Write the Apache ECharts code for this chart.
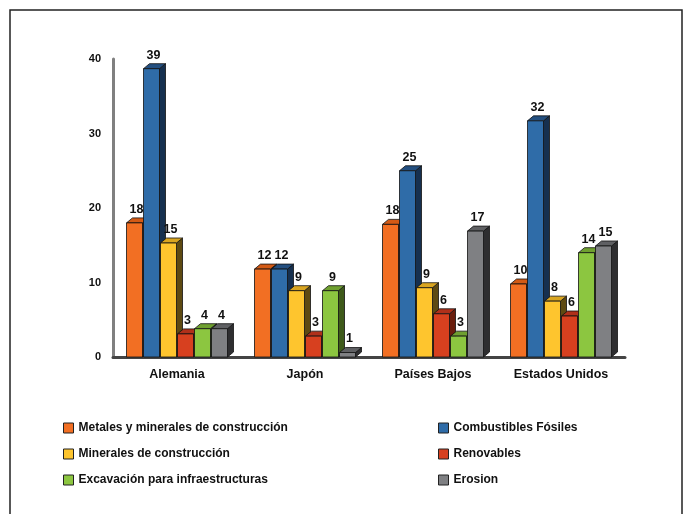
<!DOCTYPE html>
<html><head><meta charset="utf-8">
<script src="https://cdn.jsdelivr.net/npm/echarts@6/dist/echarts.min.js"></script>
<style>html,body{margin:0;padding:0;background:#fff}#c{width:685px;height:514px}</style>
</head><body><div id="c"></div>
<script>
const categories = ['Alemania', 'Japón', 'Países Bajos', 'Estados Unidos'];
const seriesNames = ['Metales y minerales de construcción', 'Combustibles Fósiles', 'Minerales de construcción', 'Renovables', 'Excavación para infraestructuras', 'Erosion'];
const metales = [18.0, 11.8, 17.8, 9.8];
const combustibles = [38.7, 11.8, 25.0, 31.7];
const minerales = [15.3, 8.9, 9.3, 7.5];
const renovables = [3.1, 2.8, 5.8, 5.5];
const excavacion = [3.8, 8.9, 2.8, 14.0];
const erosion = [3.8, 0.6, 16.9, 14.9];
const yTicks = [0, 10, 20, 30, 40];

const seriesValues = [metales, combustibles, minerales, renovables, excavacion, erosion];
const colors = ['#F26F23', '#2F6CA8', '#FEC52E', '#D7401F', '#8CC640', '#7F8083'];
const sideColors = ['#7a3510', '#16304f', '#5e4a12', '#6a1e0e', '#3e5a1a', '#2e2e30'];
const topColors = ['#d35a15', '#234f80', '#d9a520', '#b0301a', '#6fa030', '#5f6063'];
const FONT = '"Liberation Sans Narrow", "Arial Narrow", "Liberation Sans", Arial, sans-serif';

const chart = echarts.init(document.getElementById('c'));

function makeRender(i) {
  return function (params, api) {
    const cat = api.value(0), val = api.value(1);
    const base = api.coord([cat, 0]);
    const top = api.coord([cat, val]);
    const band = api.size([1, 0])[0];
    const w = band * 16 / 128, pitch = band * 17 / 128;
    const dx = band * 6 / 128, dy = 5;
    const x = base[0] + (i - 2.5) * pitch - w / 2;
    const yb = base[1], yt = top[1];
    const stroke = {stroke: '#111', lineWidth: 0.8};
    return {
      type: 'group',
      children: [
        {type: 'polygon', shape: {points: [[x + w, yt], [x + w + dx, yt - dy], [x + w + dx, yb - dy], [x + w, yb]]},
          style: Object.assign({fill: sideColors[i]}, stroke)},
        {type: 'polygon', shape: {points: [[x, yt], [x + dx, yt - dy], [x + w + dx, yt - dy], [x + w, yt]]},
          style: Object.assign({fill: topColors[i]}, stroke)},
        {type: 'rect', shape: {x: x, y: yt, width: w, height: yb - yt},
          style: Object.assign({fill: colors[i]}, stroke)},
        {type: 'text', style: {text: String(Math.round(val)), x: x + w / 2 + 2, y: yt - dy - 2,
          align: 'center', verticalAlign: 'bottom', fill: '#111', font: 'bold 12.5px ' + FONT}}
      ]
    };
  };
}

const series = seriesValues.map((vals, i) => ({
  type: 'custom',
  name: seriesNames[i],
  renderItem: makeRender(i),
  itemStyle: {color: colors[i]},
  data: vals.map((v, k) => [k, v]),
  encode: {x: 0, y: 1},
  clip: false
}));

const legendCommon = {
  orient: 'vertical', icon: 'rect', itemWidth: 10, itemHeight: 10, itemGap: 12, padding: 0,
  itemStyle: {borderColor: '#222', borderWidth: 1},
  textStyle: {fontFamily: FONT, fontWeight: 'bold', fontSize: 12, color: '#111', lineHeight: 14},
  selectedMode: false
};

chart.setOption({
  animation: false,
  backgroundColor: '#fff',
  grid: {left: 113, right: 60, top: 59, bottom: 157},
  xAxis: {
    type: 'category', data: categories,
    axisLine: {lineStyle: {color: '#444', width: 3}},
    axisTick: {show: false},
    axisLabel: {fontFamily: FONT, fontWeight: 'bold', fontSize: 12.5, color: '#111', margin: 11}
  },
  yAxis: {
    type: 'value', min: 0, max: 40, interval: 10,
    axisLine: {show: true, lineStyle: {color: '#808080', width: 3}},
    axisTick: {show: false},
    splitLine: {show: false},
    axisLabel: {fontFamily: FONT, fontWeight: 'bold', fontSize: 11, color: '#111', margin: 12,
      formatter: v => yTicks.includes(v) ? String(v) : ''}
  },
  legend: [
    Object.assign({left: 63, top: 421, data: [seriesNames[0], seriesNames[2], seriesNames[4]]}, legendCommon),
    Object.assign({left: 438, top: 421, data: [seriesNames[1], seriesNames[3], seriesNames[5]]}, legendCommon)
  ],
  graphic: [{type: 'rect', shape: {x: 10, y: 10, width: 672, height: 530},
    style: {fill: 'none', stroke: '#222', lineWidth: 1.5}, silent: true}],
  series: series
});
</script></body></html>
